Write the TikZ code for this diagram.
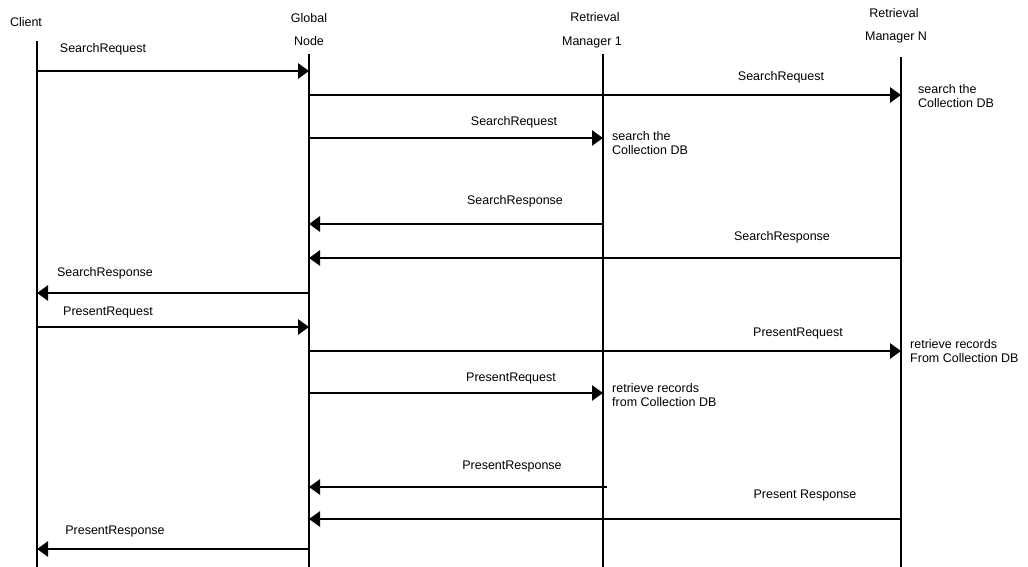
\documentclass[tikz,border=0pt]{standalone}
\usepackage{fontspec}
\setmainfont{Liberation Sans}
\usetikzlibrary{arrows.meta}
\begin{document}
\begin{tikzpicture}[x=1pt,y=-1pt,
  every node/.style={font=\fontsize{12.5}{14.5}\selectfont, inner sep=0pt},
  lifeline/.style={line width=2.8pt},
  msg/.style={line width=2.9pt, -{Triangle[length=11pt,width=15pt]}},
  lbl/.style={anchor=center},
  note/.style={anchor=west, align=left}]
\useasboundingbox (0,0) rectangle (1028,567);

% participants
\node (client) at (26,22) {Client};
\node (gnA) at (309,18) {Global};
\node (gnB) at (309,41) {Node};
\node (m1A) at (595,17) {Retrieval};
\node (m1B) at (592,42) {Manager 1};
\node (mnA) at (894,13) {Retrieval};
\node (mnB) at (896,37) {Manager N};

% lifelines
\coordinate (cT) at (37,41);   \coordinate (cB) at (37,567);
\coordinate (gT) at (309,54);  \coordinate (gB) at (309,567);
\coordinate (aT) at (603,54);  \coordinate (aB) at (603,567);
\coordinate (nT) at (901,57);  \coordinate (nB) at (901,567);
\draw[lifeline] (cT) -- (cB);
\draw[lifeline] (gT) -- (gB);
\draw[lifeline] (aT) -- (aB);
\draw[lifeline] (nT) -- (nB);

% search phase
\draw[msg] (cT |- 0,71) -- (gT |- 0,71);
\node[lbl] (l1) at (103,49) {SearchRequest};
\draw[msg] (gT |- 0,95) -- (nT |- 0,95);
\node[lbl] (l2) at (781,77) {SearchRequest};
\node[note] (n1) at (918,96) {search the\\Collection DB};
\draw[msg] (gT |- 0,138) -- (aT |- 0,138);
\node[lbl] (l3) at (514,122) {SearchRequest};
\node[note] (n2) at (612,143) {search the\\Collection DB};
\draw[msg] (aT |- 0,224) -- (gT |- 0,224);
\node[lbl] (l4) at (515,201) {SearchResponse};
\draw[msg] (nT |- 0,258) -- (gT |- 0,258);
\node[lbl] (l5) at (782,237) {SearchResponse};
\draw[msg] (gT |- 0,293) -- (cT |- 0,293);
\node[lbl] (l6) at (105,273) {SearchResponse};

% present phase
\draw[msg] (cT |- 0,327) -- (gT |- 0,327);
\node[lbl] (l7) at (108,312) {PresentRequest};
\draw[msg] (gT |- 0,351) -- (nT |- 0,351);
\node[lbl] (l8) at (798,333) {PresentRequest};
\node[note] (n3) at (910,351) {retrieve records\\From Collection DB};
\draw[msg] (gT |- 0,393) -- (aT |- 0,393);
\node[lbl] (l9) at (511,378) {PresentRequest};
\node[note] (n4) at (612,395) {retrieve records\\from Collection DB};
\draw[msg] ([xshift=4pt]aT |- 0,487) -- (gT |- 0,487);
\node[lbl] (l10) at (512,466) {PresentResponse};
\draw[msg] (nT |- 0,519) -- (gT |- 0,519);
\node[lbl] (l11) at (805,495) {Present Response};
\draw[msg] (gT |- 0,549) -- (cT |- 0,549);
\node[lbl] (l12) at (115,531) {PresentResponse};
\end{tikzpicture}
\end{document}
